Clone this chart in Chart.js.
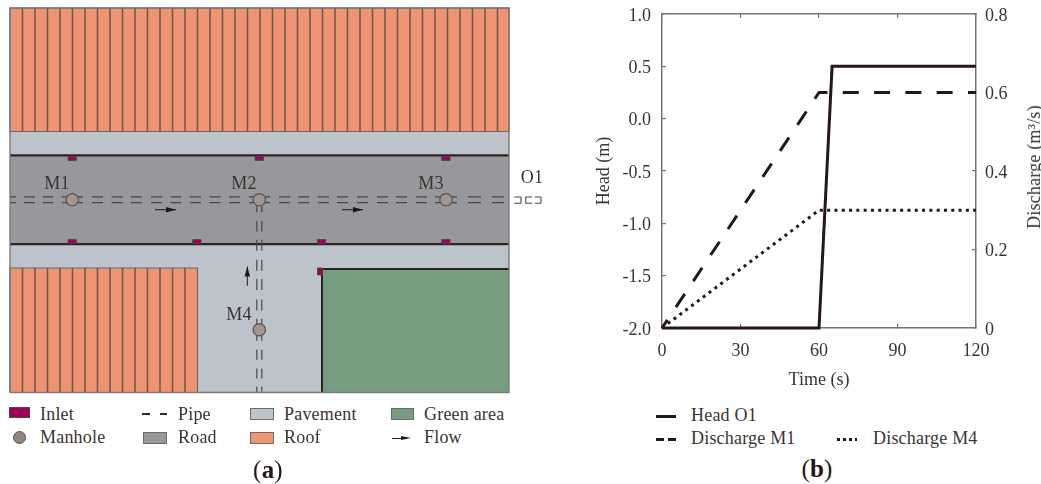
<!DOCTYPE html>
<html lang="en">
<head>
    <meta charset="UTF-8">
    <title>Site plan and head / discharge chart</title>
    <script src="https://cdn.jsdelivr.net/npm/chart.js@4.4.1/dist/chart.umd.min.js"></script>
    <style>
        html, body { margin: 0; padding: 0; background: #fff; overflow: hidden; }
        body { width: 1041px; height: 484px; position: relative; font-family: 'Liberation Serif', serif; color: #3a3432; }
        canvas { position: absolute; }
        #planChart { left: 0; top: 0; }
        #timeChart { left: 590px; top: 0; }
        .t { position: absolute; font-size: 18px; line-height: 20px; white-space: nowrap; transform: translateY(-50%); letter-spacing: 0.2px; }
        .c { transform: translate(-50%, -50%); }
        .cap { font-size: 25px; color: #231815; }
        .cap b { font-weight: bold; }
        .sw { position: absolute; box-sizing: border-box; }
        .area { border: 1.5px solid #6f6a68; }
        .rot { transform: translate(-50%, -50%) rotate(-90deg); }
    </style>
</head>
<body>

<canvas id="planChart" width="560" height="400"></canvas>
<canvas id="timeChart" width="451" height="400"></canvas>

<!-- plan labels -->
<div class="t c" style="left:57px;top:183px">M1</div>
<div class="t c" style="left:244px;top:183px">M2</div>
<div class="t c" style="left:431px;top:183px">M3</div>
<div class="t c" style="left:239px;top:314px">M4</div>
<div class="t c" style="left:532px;top:177px">O1</div>

<!-- plan legend -->
<div class="sw" style="left:9px;top:407px;width:21px;height:11px;background:#a0005a;border:1px solid #5a4048"></div>
<div class="t" style="left:40px;top:414px">Inlet</div>
<div class="sw" style="left:13px;top:431px;width:13px;height:13px;background:#8f847f;border:1.3px solid #5d5250;border-radius:50%"></div>
<div class="t" style="left:40px;top:437px">Manhole</div>
<div class="sw" style="left:142px;top:413px;width:8px;height:2px;background:#1f3040"></div>
<div class="sw" style="left:160px;top:413px;width:7px;height:2px;background:#1f3040"></div>
<div class="t" style="left:178px;top:414px">Pipe</div>
<div class="sw area" style="left:143px;top:432px;width:24px;height:12px;background:#98979c"></div>
<div class="t" style="left:178px;top:437px">Road</div>
<div class="sw area" style="left:250px;top:408px;width:24px;height:12px;background:#bdc3ca"></div>
<div class="t" style="left:284px;top:414px">Pavement</div>
<div class="sw area" style="left:250px;top:432px;width:24px;height:12px;background:#ef9473"></div>
<div class="t" style="left:284px;top:437px">Roof</div>
<div class="sw area" style="left:391px;top:408px;width:23px;height:12px;background:#779d80"></div>
<div class="t" style="left:424px;top:414px">Green area</div>
<div class="sw" style="left:392px;top:437.5px;width:13px;height:1px;background:#231815"></div>
<div class="sw" style="left:401px;top:435.5px;width:0;height:0;border-left:10px solid #231815;border-top:2.5px solid transparent;border-bottom:2.5px solid transparent"></div>
<div class="t" style="left:424px;top:437px">Flow</div>
<div class="t c cap" style="left:268px;top:470px">(<b>a</b>)</div>

<!-- right axis title reads bottom to top, chart.js only rotates it the other way -->
<div class="t rot" style="left:1034px;top:167px">Discharge (m³/s)</div>

<!-- chart legend -->
<div class="sw" style="left:656px;top:414.5px;width:20px;height:3px;background:#231815"></div>
<div class="t" style="left:691px;top:415px">Head O1</div>
<div class="sw" style="left:656px;top:437.5px;width:8px;height:3px;background:#231815"></div>
<div class="sw" style="left:668px;top:437.5px;width:8px;height:3px;background:#231815"></div>
<div class="t" style="left:691px;top:438px">Discharge M1</div>
<div class="sw" style="left:837px;top:438px;width:20px;height:2.5px;background:repeating-linear-gradient(90deg,#231815 0 3px,transparent 3px 6px)"></div>
<div class="t" style="left:873px;top:438px">Discharge M4</div>
<div class="t c cap" style="left:817px;top:469px">(<b>b</b>)</div>

<script>
    // ---- (b) time series ----
    const timeTicks = [0, 30, 60, 90, 120]
    const headTicks = [-2, -1.5, -1, -0.5, 0, 0.5, 1]
    const headTickLabels = ['-2.0', '-1.5', '-1.0', '-0.5', '0.0', '0.5', '1.0']
    const dischargeTicks = [0, 0.2, 0.4, 0.6, 0.8]
    const dischargeTickLabels = ['0', '0.2', '0.4', '0.6', '0.8']

    const headTime = [0, 60, 65, 120]
    const headO1 = [-2, -2, 0.5, 0.5]
    const dischargeTime = [0, 60, 120]
    const dischargeM1 = [0, 0.6, 0.6]
    const dischargeM4 = [0, 0.3, 0.3]

    // ---- (a) site plan, in plan units (origin bottom left) ----
    const planWidth = 499
    const planHeight = 386
    const pavementArea = [0, 499, 0, 262]
    const roadArea = [0, 499, 149, 238]
    const topRoofArea = [0, 499, 262, 386]
    const lowRoofArea = [0, 187.5, 0, 125]
    const greenArea = [312, 499, 0, 124]
    const topRoofWalls = [12.5, 25, 37.5, 50, 62.5, 75, 87.5, 100, 112.5, 125, 137.5, 150, 162.5, 175, 187.5, 200, 212.5, 225, 237.5, 250,
        262.5, 275, 287.5, 300, 312.5, 325, 337.5, 350, 362.5, 375, 387.5, 400, 412.5, 425, 437.5, 450, 462.5, 475, 487.5]
    const lowRoofWalls = [12.5, 25, 37.5, 50, 62.5, 75, 87.5, 100, 112.5, 125, 137.5, 150, 162.5, 175]
    const kerbLevels = [238, 149]
    const pipeLevels = [196.3, 190.7]
    const pipeRuns = [[0, 6], [14, 25], [33, 43], [52, 73], [82, 93], [101.7, 112.7], [121, 132], [141, 152], [160.5, 171], [180, 191],
        [199.5, 210.5], [219, 230], [239, 260], [269, 280], [288, 299], [308, 319], [327, 338], [347, 358], [367, 378], [386, 397],
        [406, 417], [425, 447], [458, 471], [482, 494]]
    const branchLevels = [246.8, 251.8]
    const branchRuns = [[187, 181], [172.3, 161.7], [153.3, 142.3], [133.3, 122.3], [114, 103], [93.3, 82.3], [74, 52], [43, 33], [24, 14], [6, 0]]
    const outletRuns = [[504.3, 511], [515.7, 522], [525, 531]]
    const outletLevels = [196.3, 190]
    const outletCaps = [511, 515.7, 531]
    const inlets = [[58.3, 66.3, 233, 237], [245.3, 253.3, 233, 237], [432, 440, 233, 237],
        [58.3, 66.3, 149.5, 153.5], [183, 191, 149.5, 153.5], [307.7, 315.7, 149.5, 153.5], [432, 440, 149.5, 153.5],
        [307.7, 312.3, 118, 125]]
    const manholes = [{x: 62.3, y: 193.5}, {x: 249.3, y: 193.5}, {x: 436, y: 193.5}, {x: 249.3, y: 63}]
    const flowArrows = [[145, 183.5, 166, 183.5], [332, 183.5, 353, 183.5], [237.3, 107, 237.3, 126.5]]

    const ink = '#231815'
    const tickGrey = '#7a736e'
    const serif = "'Liberation Serif', serif"

    function rectPoints(r) {
        return [{x: r[0], y: r[2]}, {x: r[1], y: r[2]}, {x: r[1], y: r[3]}, {x: r[0], y: r[3]}, {x: r[0], y: r[2]}]
    }

    // a line dataset with gaps between its pieces
    function strokes(pieces, color, width) {
        const data = []
        pieces.forEach(p => {
            data.push({x: p[0], y: p[1]}, {x: p[2], y: p[3]}, {x: null, y: null})
        })
        return {data, borderColor: color, borderWidth: width, showLine: true, pointRadius: 0, clip: false, borderCapStyle: 'butt'}
    }

    function area(r, color, border, width) {
        return {data: rectPoints(r), backgroundColor: color, borderColor: border, borderWidth: width, fill: 'shape',
            showLine: true, pointRadius: 0, clip: false, borderJoinStyle: 'miter'}
    }

    function arrowHead(a) {
        const dx = Math.sign(a[2] - a[0]), dy = Math.sign(a[3] - a[1])
        const bx = a[2] - dx * 10, by = a[3] - dy * 10
        const data = [{x: a[2], y: a[3]}, {x: bx + dy * 2.8, y: by + dx * 2.8}, {x: bx - dy * 2.8, y: by - dx * 2.8}, {x: a[2], y: a[3]}]
        return {data, backgroundColor: ink, borderWidth: 0, fill: 'shape', showLine: true, pointRadius: 0, clip: false}
    }

    const wallColor = '#75584c'
    const layers = [
        area(pavementArea, '#bdc3ca', '#bdc3ca', 0),
        area(topRoofArea, '#ef9473', '#6f6a68', 1.2),
        strokes(topRoofWalls.map(x => [x, topRoofArea[2], x, topRoofArea[3]]), wallColor, 1.6),
        area(lowRoofArea, '#ef9473', '#6f6a68', 1.2),
        strokes(lowRoofWalls.map(x => [x, lowRoofArea[2], x, lowRoofArea[3]]), wallColor, 1.6),
        area(roadArea, '#98979c', '#98979c', 0),
        area(greenArea, '#779d80', '#779d80', 0),
        strokes([[greenArea[0], greenArea[2], greenArea[0], greenArea[3]], [greenArea[0] - 1, greenArea[3], greenArea[1], greenArea[3]]], '#2a2220', 2),
        strokes(kerbLevels.map(y => [0, y, planWidth, y]), '#2e2423', 2.2),
        strokes(pipeLevels.flatMap(y => pipeRuns.map(r => [r[0], y, r[1], y])), '#414951', 1.2),
        strokes(branchLevels.flatMap(x => branchRuns.map(r => [x, r[0], x, r[1]])), '#414951', 1.2),
        strokes(outletLevels.flatMap(y => outletRuns.map(r => [r[0], y, r[1], y])), '#414951', 1.1),
        strokes(outletCaps.map(x => [x, outletLevels[0], x, outletLevels[1]]), '#414951', 1.1),
        ...inlets.map(r => area(r, '#a0005a', '#5a4048', 0.9)),
        strokes(flowArrows, ink, 1),
        ...flowArrows.map(arrowHead),
        area([0, planWidth, 0, planHeight], 'rgba(0,0,0,0)', '#7c7b7b', 1.4),
        {data: manholes, pointRadius: 6.2, pointBackgroundColor: '#a0958f', pointBorderColor: '#5d5250', pointBorderWidth: 1.3, clip: false}
    ]

    new Chart(document.getElementById('planChart'), {
        type: 'scatter',
        // chart.js paints the first dataset last
        data: {datasets: layers.slice().reverse()},
        options: {
            responsive: false,
            animation: false,
            layout: {padding: {left: 10, top: 8, right: 51, bottom: 6}},
            plugins: {legend: {display: false}, tooltip: {enabled: false}},
            scales: {
                x: {type: 'linear', min: 0, max: planWidth, display: false},
                y: {type: 'linear', min: 0, max: planHeight, display: false}
            }
        }
    })

    const zip = (xs, ys) => xs.map((x, i) => ({x, y: ys[i]}))
    const font = {family: serif, size: 18}

    function axisBits(size) {
        return {
            border: {color: tickGrey, width: 1.5},
            grid: {drawOnChartArea: false, color: tickGrey, lineWidth: 1.2, tickLength: -4},
            afterFit: s => {
                if (s.isHorizontal()) s.height = size; else s.width = size
                s.paddingTop = s.paddingBottom = s.paddingLeft = s.paddingRight = 0
            }
        }
    }

    new Chart(document.getElementById('timeChart'), {
        type: 'line',
        data: {
            datasets: [
                {label: 'Head O1', data: zip(headTime, headO1), yAxisID: 'y', borderColor: ink, borderWidth: 3},
                {label: 'Discharge M1', data: zip(dischargeTime, dischargeM1), yAxisID: 'y1', borderColor: ink, borderWidth: 3, borderDash: [16, 15.3], borderDashOffset: 6.2},
                {label: 'Discharge M4', data: zip(dischargeTime, dischargeM4), yAxisID: 'y1', borderColor: ink, borderWidth: 3, borderDash: [3, 4.3]}
            ]
        },
        options: {
            responsive: false,
            animation: false,
            layout: {padding: 0},
            elements: {point: {radius: 0}, line: {tension: 0, borderCapStyle: 'butt'}},
            datasets: {line: {clip: false}},
            plugins: {legend: {display: false}, tooltip: {enabled: false}},
            scales: {
                x: {
                    ...axisBits(72),
                    type: 'linear', position: 'bottom', min: 0, max: 120,
                    afterBuildTicks: s => { s.ticks = timeTicks.map(value => ({value})) },
                    ticks: {font, color: '#3a3432', padding: 16, maxRotation: 0},
                    title: {display: true, text: 'Time (s)', font, color: '#3a3432', padding: {top: 0, bottom: 9}}
                },
                x2: {
                    ...axisBits(14),
                    type: 'linear', position: 'top', axis: 'x', min: 0, max: 120,
                    afterBuildTicks: s => { s.ticks = timeTicks.map(value => ({value})) },
                    ticks: {display: false}
                },
                y: {
                    ...axisBits(72),
                    type: 'linear', position: 'left', min: -2, max: 1,
                    afterBuildTicks: s => { s.ticks = headTicks.map(value => ({value})) },
                    ticks: {font, color: '#3a3432', padding: 15, labelOffset: 2, callback: (v, i) => headTickLabels[i]},
                    title: {display: true, text: 'Head (m)', font, color: '#3a3432', padding: {top: 3, bottom: 0}}
                },
                y1: {
                    ...axisBits(65),
                    type: 'linear', position: 'right', min: 0, max: 0.8,
                    afterBuildTicks: s => { s.ticks = dischargeTicks.map(value => ({value})) },
                    ticks: {font, color: '#3a3432', padding: 13, labelOffset: 2, callback: (v, i) => dischargeTickLabels[i]}
                }
            }
        }
    })
</script>
</body>
</html>
